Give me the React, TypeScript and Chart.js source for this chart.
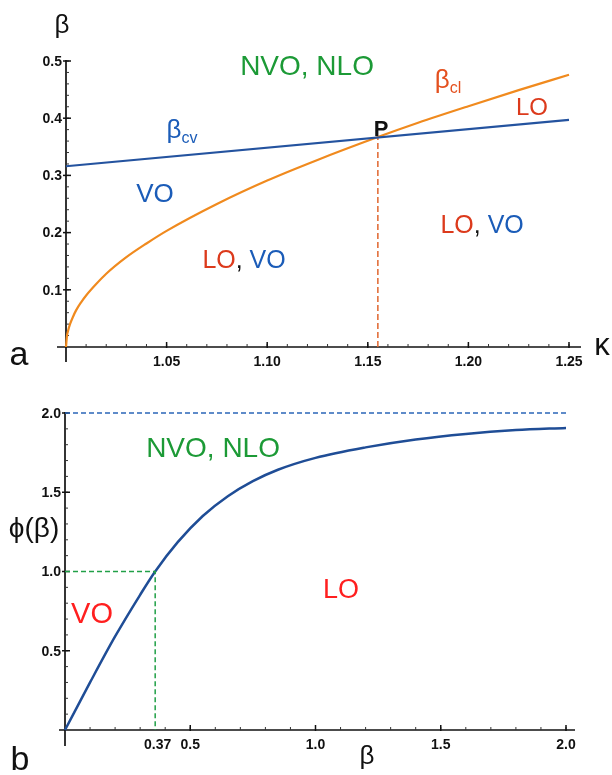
import React, { useEffect, useRef } from "react";
import { Chart, registerables } from "chart.js";

Chart.register(...registerables);

// ---------- Panel a data ----------
const kappaCv = [1.0, 1.25];
const betaCv = [0.316, 0.397];
const kappaCl = [1.0, 1.0005, 1.001, 1.002, 1.0035, 1.005, 1.0075, 1.01, 1.015, 1.02, 1.03, 1.04, 1.05, 1.075, 1.1, 1.125, 1.155, 1.175, 1.2, 1.225, 1.25];
const betaCl = [0, 0.02, 0.028, 0.04, 0.053, 0.064, 0.078, 0.09, 0.11, 0.128, 0.157, 0.181, 0.203, 0.25, 0.291, 0.327, 0.367, 0.392, 0.421, 0.449, 0.476];
const pointP = { kappa: 1.155, beta: 0.367 };
const aXTicks = [1.05, 1.1, 1.15, 1.2, 1.25];
const aXTickLabels = ["1.05", "1.10", "1.15", "1.20", "1.25"];
const aYTicks = [0.1, 0.2, 0.3, 0.4, 0.5];
const aYTickLabels = ["0.1", "0.2", "0.3", "0.4", "0.5"];

// ---------- Panel b data ----------
const betaB = [0, 0.1, 0.2, 0.3, 0.36, 0.45, 0.55, 0.65, 0.75, 0.85, 1.0, 1.2, 1.4, 1.6, 1.8, 2.0];
const phiB = [0, 0.3, 0.59, 0.853, 1.0, 1.185, 1.35, 1.475, 1.57, 1.642, 1.717, 1.783, 1.833, 1.868, 1.892, 1.906];
const phiLimit = 2.0;
const crossB = { beta: 0.36, phi: 1.0 };
const bXTicks = [0.5, 1.0, 1.5, 2.0];
const bXTickLabels = ["0.5", "1.0", "1.5", "2.0"];
const bExtraXLabel = { value: 0.37, label: "0.37" };
const bYTicks = [0.5, 1.0, 1.5, 2.0];
const bYTickLabels = ["0.5", "1.0", "1.5", "2.0"];

const SANS = "'Liberation Sans', Arial, sans-serif";
const BLUE_T = "#1b5cb8";
const RED_T = "#dc3a1c";
const GREEN_T = "#1c9a36";

type Seg = { text: string; color: string; font: string; dy?: number };
type Ann = { x: number; y: number; segs: Seg[]; data: boolean };

type PanelCfg = {
  xMin: number; xMax: number; yMin: number; yMax: number;
  xMajor: number[]; xLabels: string[]; yMajor: number[]; yLabels: string[];
  xMinorStep: number; yMinorStep: number;
  ext: { left: number; right: number; bottom: number };
  extraX?: { value: number; label: string };
  anns: Ann[];
};

function drawRich(ctx: CanvasRenderingContext2D, cx: number, baseY: number, segs: Seg[]) {
  let total = 0;
  const widths = segs.map((s) => {
    ctx.font = s.font;
    const w = ctx.measureText(s.text).width;
    total += w;
    return w;
  });
  let x = cx - total / 2;
  ctx.textAlign = "left";
  ctx.textBaseline = "alphabetic";
  segs.forEach((s, i) => {
    ctx.font = s.font;
    ctx.fillStyle = s.color;
    ctx.fillText(s.text, x, baseY + (s.dy || 0));
    x += widths[i];
  });
}

function makeOverlay(cfg: PanelCfg) {
  return {
    id: "overlay",
    beforeDatasetsDraw(chart: any) {
      const ctx: CanvasRenderingContext2D = chart.ctx;
      const xs = chart.scales.x;
      const ys = chart.scales.y;
      const x0 = xs.getPixelForValue(cfg.xMin);
      const y0 = ys.getPixelForValue(cfg.yMin);
      const xEnd = xs.getPixelForValue(cfg.xMax);
      const yTop = ys.getPixelForValue(cfg.yMax);
      ctx.save();
      ctx.strokeStyle = "#111";
      ctx.lineWidth = 1.7;
      ctx.beginPath();
      ctx.moveTo(x0 - cfg.ext.left, y0);
      ctx.lineTo(xEnd + cfg.ext.right, y0);
      ctx.stroke();
      ctx.beginPath();
      ctx.moveTo(x0, yTop - 1);
      ctx.lineTo(x0, y0 + cfg.ext.bottom);
      ctx.stroke();
      // minor ticks
      ctx.lineWidth = 1;
      ctx.strokeStyle = "#333";
      const nx = Math.round((cfg.xMax - cfg.xMin) / cfg.xMinorStep);
      for (let i = 1; i <= nx; i++) {
        const v = cfg.xMin + i * cfg.xMinorStep;
        const px = xs.getPixelForValue(v);
        ctx.beginPath();
        ctx.moveTo(px, y0);
        ctx.lineTo(px, y0 - 3);
        ctx.stroke();
      }
      const ny = Math.round((cfg.yMax - cfg.yMin) / cfg.yMinorStep);
      for (let i = 1; i <= ny; i++) {
        const v = cfg.yMin + i * cfg.yMinorStep;
        const py = ys.getPixelForValue(v);
        ctx.beginPath();
        ctx.moveTo(x0, py);
        ctx.lineTo(x0 + 3, py);
        ctx.stroke();
      }
      // major ticks
      ctx.lineWidth = 1.5;
      ctx.strokeStyle = "#111";
      cfg.xMajor.forEach((v) => {
        const px = xs.getPixelForValue(v);
        ctx.beginPath();
        ctx.moveTo(px, y0 + 1);
        ctx.lineTo(px, y0 - 5);
        ctx.stroke();
      });
      cfg.yMajor.forEach((v) => {
        const py = ys.getPixelForValue(v);
        ctx.beginPath();
        ctx.moveTo(x0 - 3, py);
        ctx.lineTo(x0 + 5, py);
        ctx.stroke();
      });
      // tick labels
      ctx.fillStyle = "#111";
      ctx.font = "bold 14px " + SANS;
      ctx.textAlign = "center";
      ctx.textBaseline = "top";
      cfg.xMajor.forEach((v, i) => {
        ctx.fillText(cfg.xLabels[i], xs.getPixelForValue(v), y0 + 8);
      });
      if (cfg.extraX) {
        ctx.fillText(cfg.extraX.label, xs.getPixelForValue(cfg.extraX.value), y0 + 8);
      }
      ctx.textAlign = "right";
      ctx.textBaseline = "middle";
      cfg.yMajor.forEach((v, i) => {
        ctx.fillText(cfg.yLabels[i], x0 - 4, ys.getPixelForValue(v) + 1);
      });
      ctx.restore();
    },
    afterDraw(chart: any) {
      const ctx: CanvasRenderingContext2D = chart.ctx;
      const xs = chart.scales.x;
      const ys = chart.scales.y;
      ctx.save();
      cfg.anns.forEach((a) => {
        const px = a.data ? xs.getPixelForValue(a.x) : a.x;
        const py = a.data ? ys.getPixelForValue(a.y) : a.y;
        drawRich(ctx, px, py, a.segs);
      });
      ctx.restore();
    },
  };
}

const f = (size: number, bold = false) => `${bold ? "bold " : ""}${size}px ${SANS}`;

const annsA: Ann[] = [
  { x: 1.1198, y: 0.4755, data: true, segs: [{ text: "NVO, NLO", color: GREEN_T, font: f(28) }] },
  {
    x: 1.0577, y: 0.3654, data: true,
    segs: [
      { text: "β", color: BLUE_T, font: f(26) },
      { text: "cv", color: BLUE_T, font: f(16), dy: 5 },
    ],
  },
  {
    x: 1.1899, y: 0.4528, data: true,
    segs: [
      { text: "β", color: "#e4501e", font: f(26) },
      { text: "cl", color: "#e4501e", font: f(16), dy: 5 },
    ],
  },
  { x: 1.1566, y: 0.369, data: true, segs: [{ text: "P", color: "#111", font: f(22, true) }] },
  { x: 1.2316, y: 0.4056, data: true, segs: [{ text: "LO", color: RED_T, font: f(24) }] },
  { x: 1.0442, y: 0.2535, data: true, segs: [{ text: "VO", color: BLUE_T, font: f(26) }] },
  {
    x: 1.0885, y: 0.1381, data: true,
    segs: [
      { text: "LO", color: RED_T, font: f(25) },
      { text: ", ", color: "#111", font: f(25) },
      { text: "VO", color: BLUE_T, font: f(25) },
    ],
  },
  {
    x: 1.2068, y: 0.1993, data: true,
    segs: [
      { text: "LO", color: RED_T, font: f(25) },
      { text: ", ", color: "#111", font: f(25) },
      { text: "VO", color: BLUE_T, font: f(25) },
    ],
  },
  { x: 62, y: 33, data: false, segs: [{ text: "β", color: "#111", font: f(26) }] },
  { x: 19, y: 365, data: false, segs: [{ text: "a", color: "#111", font: f(34) }] },
  { x: 602, y: 355, data: false, segs: [{ text: "κ", color: "#111", font: f(31) }] },
];

const annsB: Ann[] = [
  { x: 0.591, y: 1.722, data: true, segs: [{ text: "NVO, NLO", color: GREEN_T, font: f(28) }] },
  { x: 0.108, y: 0.675, data: true, segs: [{ text: "VO", color: "#ff1f1f", font: f(29) }] },
  { x: 1.102, y: 0.833, data: true, segs: [{ text: "LO", color: "#ff1f1f", font: f(27) }] },
  { x: 34, y: 157, data: false, segs: [{ text: "ϕ(β)", color: "#111", font: f(28) }] },
  { x: 20, y: 390, data: false, segs: [{ text: "b", color: "#111", font: f(34) }] },
  { x: 367, y: 384, data: false, segs: [{ text: "β", color: "#111", font: f(26) }] },
];

function PanelChart(props: {
  width: number; height: number; top: number;
  padding: { left: number; right: number; top: number; bottom: number };
  datasets: any[]; cfg: PanelCfg;
}) {
  const ref = useRef<HTMLCanvasElement | null>(null);
  useEffect(() => {
    if (!ref.current) return;
    const { cfg } = props;
    const chart = new Chart(ref.current, {
      type: "line",
      data: { datasets: props.datasets },
      options: {
        responsive: false,
        animation: false,
        parsing: true,
        layout: { padding: props.padding },
        plugins: { legend: { display: false }, tooltip: { enabled: false } },
        elements: { point: { radius: 0 } },
        scales: {
          x: { type: "linear", min: cfg.xMin, max: cfg.xMax, display: false },
          y: { type: "linear", min: cfg.yMin, max: cfg.yMax, display: false },
        },
      },
      plugins: [makeOverlay(cfg)],
    } as any);
    return () => chart.destroy();
  }, []);
  return (
    <canvas
      ref={ref}
      width={props.width}
      height={props.height}
      style={{ position: "absolute", left: 0, top: props.top, width: props.width, height: props.height }}
    />
  );
}

const zip = (xs: number[], ys: number[]) => xs.map((x, i) => ({ x, y: ys[i] }));

export default function App() {
  const cfgA: PanelCfg = {
    xMin: 1.0, xMax: 1.25, yMin: 0, yMax: 0.5,
    xMajor: aXTicks, xLabels: aXTickLabels, yMajor: aYTicks, yLabels: aYTickLabels,
    xMinorStep: 0.01, yMinorStep: 0.02,
    ext: { left: 9, right: 12, bottom: 15 },
    anns: annsA,
  };
  const cfgB: PanelCfg = {
    xMin: 0, xMax: 2, yMin: 0, yMax: 2,
    xMajor: bXTicks, xLabels: bXTickLabels, yMajor: bYTicks, yLabels: bYTickLabels,
    xMinorStep: 0.1, yMinorStep: 0.1,
    ext: { left: 6, right: 9, bottom: 16 },
    extraX: bExtraXLabel,
    anns: annsB,
  };
  const dsA = [
    {
      data: zip(kappaCv, betaCv), borderColor: "#24539f", borderWidth: 2.2, clip: false,
      pointRadius: 0, fill: false,
    },
    {
      data: zip(kappaCl, betaCl), borderColor: "#f08a1e", borderWidth: 2.2, clip: false,
      pointRadius: 0, fill: false, cubicInterpolationMode: "monotone",
    },
    {
      data: [{ x: pointP.kappa, y: 0 }, { x: pointP.kappa, y: pointP.beta }],
      borderColor: "#e0662e", borderWidth: 1.5, borderDash: [6, 3], pointRadius: 0, clip: false,
    },
  ];
  const dsB = [
    {
      data: [{ x: 0, y: phiLimit }, { x: 2, y: phiLimit }],
      borderColor: "#2a66b8", borderWidth: 1.5, borderDash: [5, 3], pointRadius: 0, clip: false,
    },
    {
      data: [{ x: 0, y: crossB.phi }, { x: crossB.beta, y: crossB.phi }, { x: crossB.beta, y: 0 }],
      borderColor: "#21a047", borderWidth: 1.5, borderDash: [5, 3], pointRadius: 0, clip: false,
    },
    {
      data: zip(betaB, phiB), borderColor: "#1f4d96", borderWidth: 2.5, clip: false,
      pointRadius: 0, fill: false, cubicInterpolationMode: "monotone",
    },
  ];
  return (
    <div style={{ position: "fixed", left: 0, top: 0, width: 612, height: 775, background: "#fff" }}>
      <PanelChart width={612} height={380} top={0}
        padding={{ left: 66, right: 43, top: 61, bottom: 33 }} datasets={dsA} cfg={cfgA} />
      <PanelChart width={612} height={395} top={380}
        padding={{ left: 65, right: 46, top: 33, bottom: 45 }} datasets={dsB} cfg={cfgB} />
    </div>
  );
}
